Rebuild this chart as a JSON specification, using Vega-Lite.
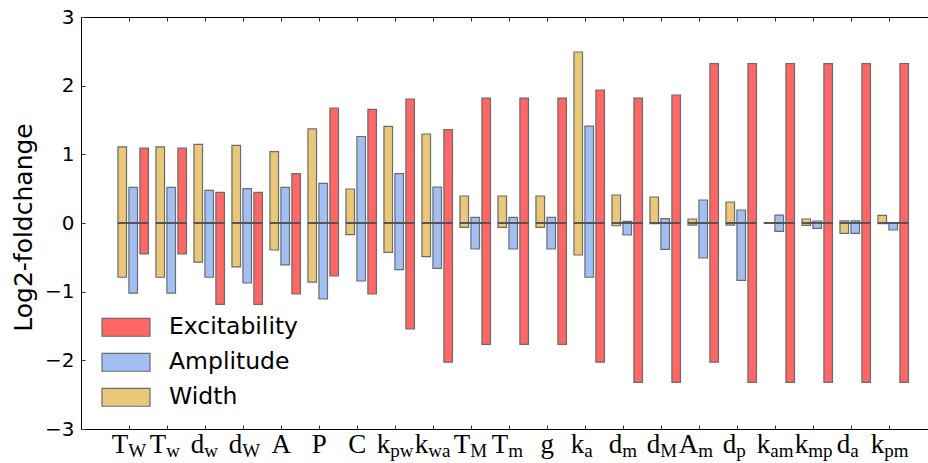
{
  "$schema": "https://vega.github.io/schema/vega-lite/v6.json",
  "width": 848,
  "height": 412,
  "autosize": {"type": "none"},
  "padding": {"left": 81, "top": 17, "right": 0, "bottom": 34},
  "background": "white",
  "config": {
    "view": {"stroke": "black", "strokeWidth": 1},
    "axis": {"domain": false, "grid": false, "tickColor": "#333", "tickWidth": 1, "tickSize": -4}
  },
  "data": {
    "values": [
      {"p": "T_W", "m": "T", "s": "W", "series": "Width", "lo": -0.79, "hi": 1.11},
      {"p": "T_W", "m": "T", "s": "W", "series": "Amplitude", "lo": -1.02, "hi": 0.52},
      {"p": "T_W", "m": "T", "s": "W", "series": "Excitability", "lo": -0.45, "hi": 1.09},
      {"p": "T_w", "m": "T", "s": "w", "series": "Width", "lo": -0.79, "hi": 1.11},
      {"p": "T_w", "m": "T", "s": "w", "series": "Amplitude", "lo": -1.02, "hi": 0.52},
      {"p": "T_w", "m": "T", "s": "w", "series": "Excitability", "lo": -0.45, "hi": 1.09},
      {"p": "d_w", "m": "d", "s": "w", "series": "Width", "lo": -0.57, "hi": 1.145},
      {"p": "d_w", "m": "d", "s": "w", "series": "Amplitude", "lo": -0.79, "hi": 0.475},
      {"p": "d_w", "m": "d", "s": "w", "series": "Excitability", "lo": -1.185, "hi": 0.446},
      {"p": "d_W", "m": "d", "s": "W", "series": "Width", "lo": -0.64, "hi": 1.13},
      {"p": "d_W", "m": "d", "s": "W", "series": "Amplitude", "lo": -0.874, "hi": 0.5},
      {"p": "d_W", "m": "d", "s": "W", "series": "Excitability", "lo": -1.185, "hi": 0.446},
      {"p": "A", "m": "A", "s": "", "series": "Width", "lo": -0.393, "hi": 1.04},
      {"p": "A", "m": "A", "s": "", "series": "Amplitude", "lo": -0.61, "hi": 0.52},
      {"p": "A", "m": "A", "s": "", "series": "Excitability", "lo": -1.034, "hi": 0.72},
      {"p": "P", "m": "P", "s": "", "series": "Width", "lo": -0.86, "hi": 1.37},
      {"p": "P", "m": "P", "s": "", "series": "Amplitude", "lo": -1.107, "hi": 0.577},
      {"p": "P", "m": "P", "s": "", "series": "Excitability", "lo": -0.772, "hi": 1.675},
      {"p": "C", "m": "C", "s": "", "series": "Width", "lo": -0.17, "hi": 0.495},
      {"p": "C", "m": "C", "s": "", "series": "Amplitude", "lo": -0.845, "hi": 1.26},
      {"p": "C", "m": "C", "s": "", "series": "Excitability", "lo": -1.034, "hi": 1.655},
      {"p": "k_pw", "m": "k", "s": "pw", "series": "Width", "lo": -0.427, "hi": 1.407},
      {"p": "k_pw", "m": "k", "s": "pw", "series": "Amplitude", "lo": -0.68, "hi": 0.718},
      {"p": "k_pw", "m": "k", "s": "pw", "series": "Excitability", "lo": -1.544, "hi": 1.806},
      {"p": "k_wa", "m": "k", "s": "wa", "series": "Width", "lo": -0.49, "hi": 1.296},
      {"p": "k_wa", "m": "k", "s": "wa", "series": "Amplitude", "lo": -0.66, "hi": 0.524},
      {"p": "k_wa", "m": "k", "s": "wa", "series": "Excitability", "lo": -2.025, "hi": 1.359},
      {"p": "T_M", "m": "T", "s": "M", "series": "Width", "lo": -0.063, "hi": 0.393},
      {"p": "T_M", "m": "T", "s": "M", "series": "Amplitude", "lo": -0.379, "hi": 0.082},
      {"p": "T_M", "m": "T", "s": "M", "series": "Excitability", "lo": -1.767, "hi": 1.82},
      {"p": "T_m", "m": "T", "s": "m", "series": "Width", "lo": -0.063, "hi": 0.393},
      {"p": "T_m", "m": "T", "s": "m", "series": "Amplitude", "lo": -0.379, "hi": 0.082},
      {"p": "T_m", "m": "T", "s": "m", "series": "Excitability", "lo": -1.767, "hi": 1.82},
      {"p": "g", "m": "g", "s": "", "series": "Width", "lo": -0.063, "hi": 0.393},
      {"p": "g", "m": "g", "s": "", "series": "Amplitude", "lo": -0.379, "hi": 0.082},
      {"p": "g", "m": "g", "s": "", "series": "Excitability", "lo": -1.767, "hi": 1.82},
      {"p": "k_a", "m": "k", "s": "a", "series": "Width", "lo": -0.466, "hi": 2.49},
      {"p": "k_a", "m": "k", "s": "a", "series": "Amplitude", "lo": -0.79, "hi": 1.41},
      {"p": "k_a", "m": "k", "s": "a", "series": "Excitability", "lo": -2.025, "hi": 1.937},
      {"p": "d_m", "m": "d", "s": "m", "series": "Width", "lo": -0.04, "hi": 0.408},
      {"p": "d_m", "m": "d", "s": "m", "series": "Amplitude", "lo": -0.175, "hi": 0.024},
      {"p": "d_m", "m": "d", "s": "m", "series": "Excitability", "lo": -2.32, "hi": 1.82},
      {"p": "d_M", "m": "d", "s": "M", "series": "Width", "lo": -0.01, "hi": 0.379},
      {"p": "d_M", "m": "d", "s": "M", "series": "Amplitude", "lo": -0.384, "hi": 0.063},
      {"p": "d_M", "m": "d", "s": "M", "series": "Excitability", "lo": -2.32, "hi": 1.864},
      {"p": "A_m", "m": "A", "s": "m", "series": "Width", "lo": -0.03, "hi": 0.058},
      {"p": "A_m", "m": "A", "s": "m", "series": "Amplitude", "lo": -0.51, "hi": 0.335},
      {"p": "A_m", "m": "A", "s": "m", "series": "Excitability", "lo": -2.025, "hi": 2.32},
      {"p": "d_p", "m": "d", "s": "p", "series": "Width", "lo": -0.03, "hi": 0.306},
      {"p": "d_p", "m": "d", "s": "p", "series": "Amplitude", "lo": -0.835, "hi": 0.189},
      {"p": "d_p", "m": "d", "s": "p", "series": "Excitability", "lo": -2.32, "hi": 2.32},
      {"p": "k_am", "m": "k", "s": "am", "series": "Width", "lo": 0, "hi": 0},
      {"p": "k_am", "m": "k", "s": "am", "series": "Amplitude", "lo": -0.122, "hi": 0.116},
      {"p": "k_am", "m": "k", "s": "am", "series": "Excitability", "lo": -2.32, "hi": 2.32},
      {"p": "k_mp", "m": "k", "s": "mp", "series": "Width", "lo": -0.034, "hi": 0.058},
      {"p": "k_mp", "m": "k", "s": "mp", "series": "Amplitude", "lo": -0.078, "hi": 0.029},
      {"p": "k_mp", "m": "k", "s": "mp", "series": "Excitability", "lo": -2.32, "hi": 2.32},
      {"p": "d_a", "m": "d", "s": "a", "series": "Width", "lo": -0.151, "hi": 0.03},
      {"p": "d_a", "m": "d", "s": "a", "series": "Amplitude", "lo": -0.151, "hi": 0.03},
      {"p": "d_a", "m": "d", "s": "a", "series": "Excitability", "lo": -2.32, "hi": 2.32},
      {"p": "k_pm", "m": "k", "s": "pm", "series": "Width", "lo": -0.01, "hi": 0.111},
      {"p": "k_pm", "m": "k", "s": "pm", "series": "Amplitude", "lo": -0.102, "hi": 0},
      {"p": "k_pm", "m": "k", "s": "pm", "series": "Excitability", "lo": -2.32, "hi": 2.32}
    ]
  },
  "layer": [
    {
      "mark": {"type": "bar", "stroke": "#6b6b6b", "strokeWidth": 1.2, "opacity": 1},
      "encoding": {
        "x": {
          "field": "p", "type": "nominal", "sort": null,
          "scale": {"type": "band", "paddingInner": 0.197, "paddingOuter": 0.756, "align": 0.643, "round": false},
          "axis": {"orient": "bottom", "labels": false, "title": null, "bandPosition": 0.37}
        },
        "xOffset": {
          "field": "series", "type": "nominal", "sort": ["Width", "Amplitude", "Excitability"],
          "scale": {"paddingInner": 0.218, "paddingOuter": 0}
        },
        "y": {
          "field": "lo", "type": "quantitative",
          "scale": {"domain": [-3, 3], "nice": false, "zero": false},
          "axis": {
            "values": [-3, -2, -1, 0, 1, 2, 3], "format": "d",
            "title": "Log2-foldchange", "titleFont": "DejaVu Sans", "titleFontSize": 25,
            "titleFontWeight": "normal", "titleColor": "black",
            "titleX": -50, "titleY": 210, "titleBaseline": "alphabetic",
            "labelFont": "DejaVu Sans", "labelFontSize": 20, "labelColor": "black", "labelPadding": 11
          }
        },
        "y2": {"field": "hi"},
        "color": {
          "field": "series", "type": "nominal",
          "scale": {"domain": ["Excitability", "Amplitude", "Width"], "range": ["#FF6666", "#A2BFF4", "#E9C979"]},
          "legend": {
            "orient": "none", "legendX": 20, "legendY": 293, "title": null, "padding": 0,
            "symbolType": "M-1,-0.37H1V0.37H-1Z", "symbolSize": 2304,
            "symbolStrokeColor": "#6b6b6b", "symbolStrokeWidth": 1.2, "symbolOpacity": 1,
            "labelFont": "DejaVu Sans", "labelFontSize": 23.5, "labelColor": "black",
            "labelOffset": 18, "clipHeight": 34.7, "rowPadding": 0
          }
        }
      }
    },
    {
      "transform": [{"filter": "datum.series == 'Width'"}],
      "mark": {"type": "tick", "color": "#555", "thickness": 2, "size": 31, "opacity": 1},
      "encoding": {
        "x": {"field": "p", "type": "nominal", "sort": null, "axis": {"orient": "top", "labels": false, "title": null, "bandPosition": 0.37}},
        "y": {"datum": 0, "type": "quantitative", "axis": null}
      }
    },
    {
      "transform": [{"filter": "datum.series == 'Width' && datum.s == ''"}],
      "mark": {"type": "text", "font": "Liberation Serif", "fontSize": 27, "baseline": "alphabetic", "align": "center", "dy": 23.5, "color": "black"},
      "encoding": {
        "x": {"field": "p", "type": "nominal", "sort": null, "bandPosition": 0.37, "axis": null},
        "y": {"datum": -3, "type": "quantitative", "axis": null},
        "text": {"field": "m"}
      }
    },
    {
      "transform": [{"filter": "datum.series == 'Width' && length(datum.s) == 1"}],
      "mark": {"type": "text", "font": "Liberation Serif", "fontSize": 27, "baseline": "alphabetic", "align": "right", "dx": -1, "dy": 23.5, "color": "black"},
      "encoding": {
        "x": {"field": "p", "type": "nominal", "sort": null, "bandPosition": 0.37, "axis": null},
        "y": {"datum": -3, "type": "quantitative", "axis": null},
        "text": {"field": "m"}
      }
    },
    {
      "transform": [{"filter": "datum.series == 'Width' && length(datum.s) == 1"}],
      "mark": {"type": "text", "font": "Liberation Serif", "fontSize": 19, "baseline": "alphabetic", "align": "left", "dx": -1, "dy": 27.7, "color": "black"},
      "encoding": {
        "x": {"field": "p", "type": "nominal", "sort": null, "bandPosition": 0.37, "axis": null},
        "y": {"datum": -3, "type": "quantitative", "axis": null},
        "text": {"field": "s"}
      }
    },
    {
      "transform": [{"filter": "datum.series == 'Width' && length(datum.s) == 2"}],
      "mark": {"type": "text", "font": "Liberation Serif", "fontSize": 27, "baseline": "alphabetic", "align": "right", "dx": -5, "dy": 23.5, "color": "black"},
      "encoding": {
        "x": {"field": "p", "type": "nominal", "sort": null, "bandPosition": 0.37, "axis": null},
        "y": {"datum": -3, "type": "quantitative", "axis": null},
        "text": {"field": "m"}
      }
    },
    {
      "transform": [{"filter": "datum.series == 'Width' && length(datum.s) == 2"}],
      "mark": {"type": "text", "font": "Liberation Serif", "fontSize": 19, "baseline": "alphabetic", "align": "left", "dx": -5, "dy": 27.7, "color": "black"},
      "encoding": {
        "x": {"field": "p", "type": "nominal", "sort": null, "bandPosition": 0.37, "axis": null},
        "y": {"datum": -3, "type": "quantitative", "axis": null},
        "text": {"field": "s"}
      }
    }
  ],
  "resolve": {"axis": {"x": "independent", "y": "independent"}}
}
